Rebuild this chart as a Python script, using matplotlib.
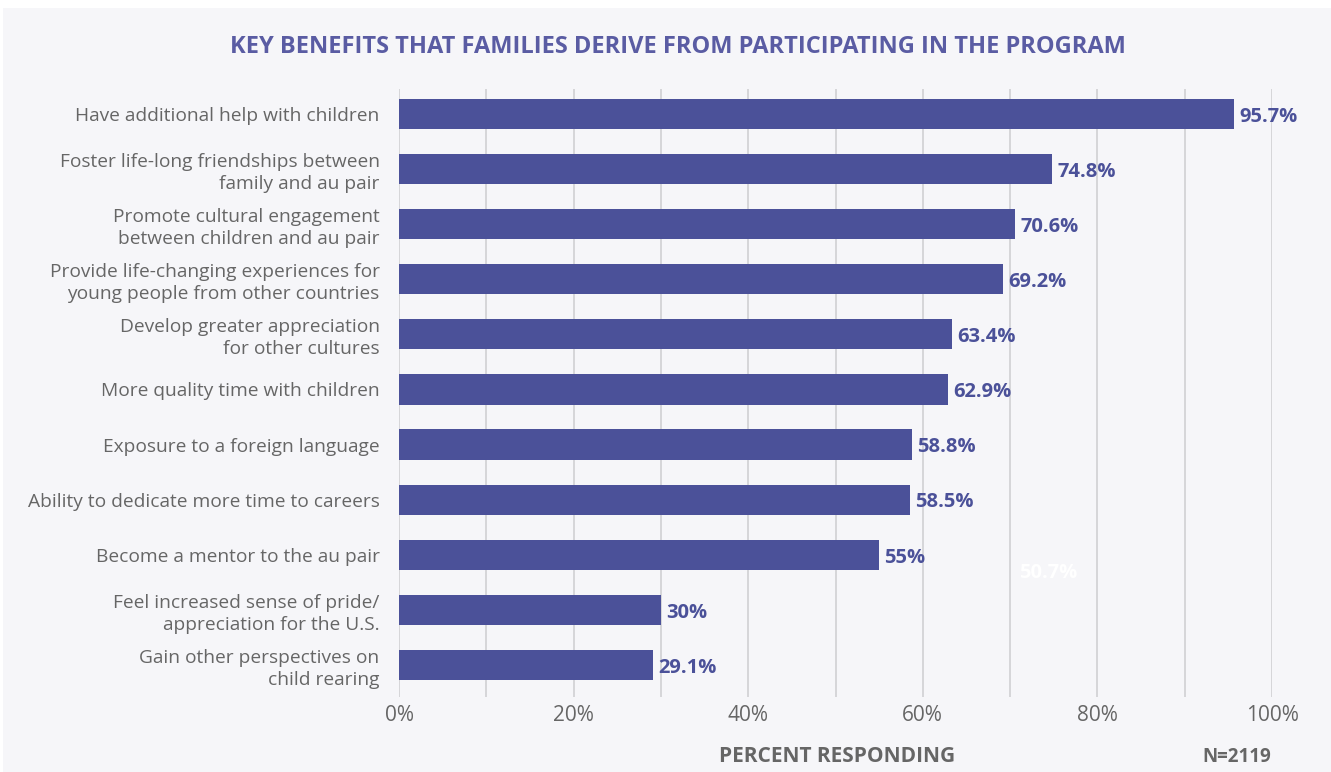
import matplotlib
matplotlib.use("Agg")
import matplotlib.pyplot as plt
from matplotlib.patches import Rectangle

categories = [
    "Have additional help with children",
    "Foster life-long friendships between\nfamily and au pair",
    "Promote cultural engagement\nbetween children and au pair",
    "Provide life-changing experiences for\nyoung people from other countries",
    "Develop greater appreciation\nfor other cultures",
    "More quality time with children",
    "Exposure to a foreign language",
    "Ability to dedicate more time to careers",
    "Become a mentor to the au pair",
    "Feel increased sense of pride/\nappreciation for the U.S.",
    "Gain other perspectives on\nchild rearing",
]
values = [95.7, 74.8, 70.6, 69.2, 63.4, 62.9, 58.8, 58.5, 55, 30, 29.1]
value_labels = ["95.7%", "74.8%", "70.6%", "69.2%", "63.4%", "62.9%", "58.8%", "58.5%", "55%", "30%", "29.1%"]
xticks = [0, 20, 40, 60, 80, 100]
xtick_labels = ["0%", "20%", "40%", "60%", "80%", "100%"]
ghost_label = "50.7%"
ghost_value = 71.0
ghost_pos = 8.33

plt.rcParams['font.family'] = ['Open Sans', 'DejaVu Sans']

BAR = "#4b5199"
TITLE = "#5a5ca3"
GRAY = "#666666"
BG = "#f6f6f9"

fig = plt.figure(figsize=(13.31, 7.72), dpi=100, facecolor="white")
fig.patches.append(Rectangle((3/1331, 0), 1, 1 - 8/772, transform=fig.transFigure,
                             facecolor=BG, edgecolor="none", zorder=-10))

ax = fig.add_axes([399/1331, 1 - 697/772, 873/1331, (697 - 89)/772])
ax.set_facecolor("none")
y = list(range(len(categories)))
ax.barh(y, values, height=0.55, color=BAR, zorder=3)
ax.set_ylim(10.58, -0.45)
ax.set_xlim(0, 100)
for i, (v, lab) in enumerate(zip(values, value_labels)):
    ax.text(v + 0.6, i + 0.05, lab, va="center", ha="left", color=BAR,
            fontsize=14.5, fontweight="bold", zorder=4)
ax.text(ghost_value, ghost_pos, ghost_label, va="center", ha="left", color="white",
        fontsize=14.5, fontweight="bold", zorder=4)

for g in range(0, 101, 10):
    ax.axvline(g, color="#d3d3d6", lw=1.3, zorder=1)

ax.set_xticks(xticks)
ax.set_xticklabels(xtick_labels, color=GRAY, fontsize=15)
ax.set_yticks(y)
ax.set_yticklabels(categories, color=GRAY, fontsize=13.8, linespacing=1.3)
ax.tick_params(axis="both", length=0)
ax.tick_params(axis="x", pad=6)
ax.tick_params(axis="y", pad=14)
for s in ax.spines.values():
    s.set_visible(False)

fig.text(678/1331, 1 - 47/772, "KEY BENEFITS THAT FAMILIES DERIVE FROM PARTICIPATING IN THE PROGRAM",
         ha="center", va="center", color=TITLE, fontsize=17, fontweight="bold")
fig.text(837/1331, 1 - 756/772, "PERCENT RESPONDING", ha="center", va="center",
         color=GRAY, fontsize=15, fontweight="bold")
fig.text(1237/1331, 1 - 757/772, "N=2119", ha="center", va="center",
         color=GRAY, fontsize=13.5, fontweight="bold")

fig.savefig("out.png", dpi=100, facecolor="white")
